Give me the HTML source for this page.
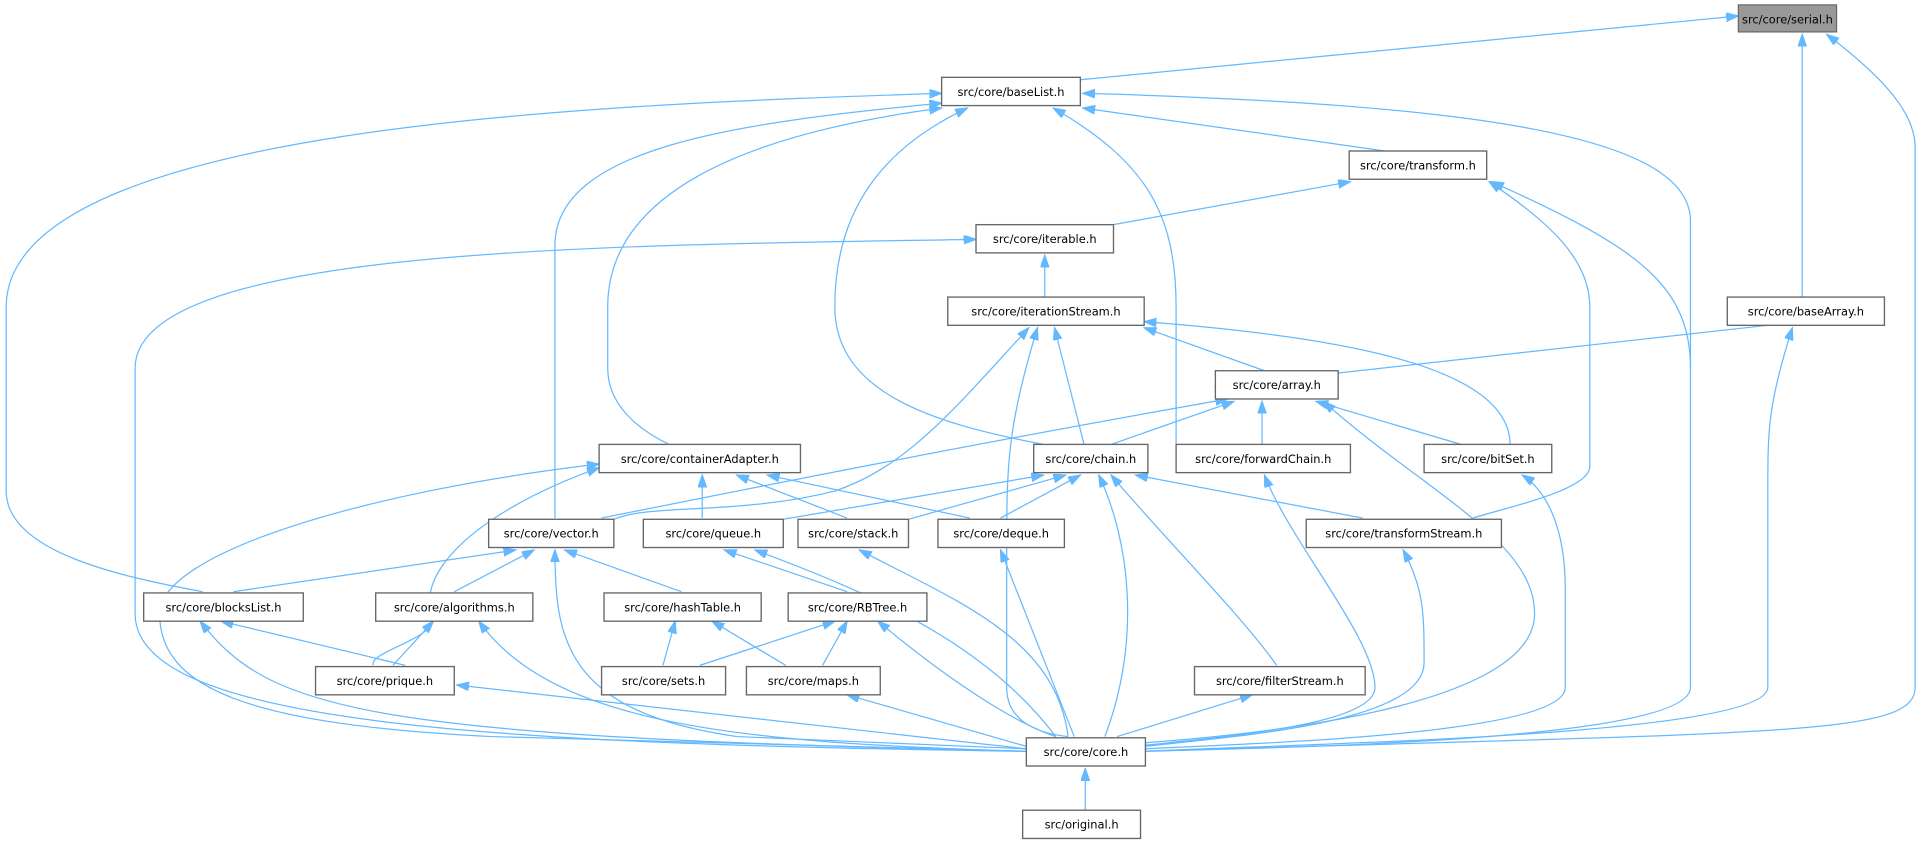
<!DOCTYPE html>
<html><head><meta charset="utf-8"><style>
html,body{margin:0;padding:0;background:#fff;}
svg{display:block;}
text{font-family:"DejaVu Sans","Liberation Sans",sans-serif;font-size:9.3px;fill:#000;}
.n{fill:#fff;stroke:#666;stroke-width:1.1;}
.e{fill:none;stroke:#63b8ff;stroke-width:1;marker-start:url(#a);}
</style></head><body>
<svg width="1925" height="843" viewBox="0 0 1568 686.7" xmlns="http://www.w3.org/2000/svg">
<defs><marker id="a" markerUnits="userSpaceOnUse" markerWidth="11" markerHeight="8" refX="10" refY="3.5" orient="auto-start-reverse"><path d="M0,0 L10,3.5 L0,7 Z" fill="#63b8ff" stroke="#63b8ff"/></marker></defs>
<g>
<path class="e" d="M1416,13 L880,65"/>
<path class="e" d="M1468,28 L1468,242"/>
<path class="e" d="M1488,28 C1530,60 1560,90 1560,120 L1560,560 C1560,600 1450,596 933,612"/>
<path class="e" d="M882,88 L1128,123"/>
<path class="e" d="M882,76 C1200,85 1377,110 1377,180 L1377,560 C1377,600 1100,608 933,612"/>
<path class="e" d="M858,88 C930,130 958,170 958,250 L958,362"/>
<path class="e" d="M788,88 C720,120 680,170 680,250 C680,320 760,345 850,362"/>
<path class="e" d="M767,88 C600,110 495,160 495,250 L495,300 C495,330 520,350 545,362"/>
<path class="e" d="M767,84 C600,100 452,120 452,200 L452,422"/>
<path class="e" d="M767,76 C500,85 5,100 5,250 L5,400 C5,450 100,470 165,482"/>
<path class="e" d="M1100,148 L907,183"/>
<path class="e" d="M1213,148 C1260,180 1295,210 1295,250 L1295,380 C1295,400 1220,415 1200,422"/>
<path class="e" d="M1215,148 C1330,200 1377,230 1377,300"/>
<path class="e" d="M851,208 L851,242"/>
<path class="e" d="M795,195 C500,200 110,200 110,300 L110,500 C110,590 400,606 836,612"/>
<path class="e" d="M932,267 L1030,302"/>
<path class="e" d="M932,262 C1100,275 1230,300 1230,362"/>
<path class="e" d="M838,267 C780,330 740,380 680,400 C600,420 530,410 500,423"/>
<path class="e" d="M859,267 L883,362"/>
<path class="e" d="M845,267 C820,350 820,380 820,450 L820,560 C820,590 850,598 870,600"/>
<path class="e" d="M990,315 L1440,265"/>
<path class="e" d="M1460,267 C1440,330 1440,350 1440,400 L1440,560 C1440,600 1050,606 933,612"/>
<path class="e" d="M1000,325 C800,360 600,400 490,422"/>
<path class="e" d="M1005,327 L905,362"/>
<path class="e" d="M1028,327 L1028,362"/>
<path class="e" d="M1072,327 L1190,362"/>
<path class="e" d="M1078,327 C1160,400 1250,440 1250,500 C1250,580 1000,600 933,605"/>
<path class="e" d="M572,387 L572,422"/>
<path class="e" d="M600,387 L690,422"/>
<path class="e" d="M625,387 L790,422"/>
<path class="e" d="M488,381 C380,420 340,470 352,500 C360,520 300,530 304,542"/>
<path class="e" d="M488,378 C300,400 130,450 130,500 C130,560 200,590 400,600 L836,612"/>
<path class="e" d="M850,387 L638,423"/>
<path class="e" d="M868,387 L740,423"/>
<path class="e" d="M880,387 L815,422"/>
<path class="e" d="M925,387 L1110,422"/>
<path class="e" d="M905,387 C950,440 1010,500 1040,542"/>
<path class="e" d="M895,387 C920,440 930,520 900,600"/>
<path class="e" d="M420,448 L190,482"/>
<path class="e" d="M435,448 L370,482"/>
<path class="e" d="M460,448 L555,482"/>
<path class="e" d="M452,448 C452,520 460,580 600,600 L836,610"/>
<path class="e" d="M590,448 L690,482"/>
<path class="e" d="M615,448 C700,480 800,520 860,600"/>
<path class="e" d="M700,448 C780,490 860,520 870,600"/>
<path class="e" d="M815,448 L875,600"/>
<path class="e" d="M1030,387 C1050,440 1120,520 1120,560 C1120,590 1000,600 933,607"/>
<path class="e" d="M1240,387 C1260,400 1275,430 1275,480 L1275,560 C1275,600 1000,606 933,610"/>
<path class="e" d="M1143,448 C1160,480 1160,500 1160,540 C1160,590 1000,600 933,608"/>
<path class="e" d="M180,506 L330,542"/>
<path class="e" d="M163,506 C220,580 300,600 836,612"/>
<path class="e" d="M353,506 L320,542"/>
<path class="e" d="M390,506 C450,590 600,605 836,612"/>
<path class="e" d="M550,506 L540,542"/>
<path class="e" d="M580,506 L640,542"/>
<path class="e" d="M680,506 L570,542"/>
<path class="e" d="M690,506 L670,542"/>
<path class="e" d="M715,506 C780,560 830,590 860,600"/>
<path class="e" d="M372,558 L836,610"/>
<path class="e" d="M690,566 L836,608"/>
<path class="e" d="M1020,566 L910,600"/>
<path class="e" d="M884,626 L884,660"/>
</g>
<g text-anchor="middle">
<rect x="1416" y="4" width="80" height="22" fill="#999" stroke="#666"/><text x="1456" y="19">src/core/serial.h</text>
<rect class="n" x="767" y="63" width="113" height="23"/><text x="823.5" y="78">src/core/baseList.h</text>
<rect class="n" x="1099" y="123" width="112" height="23"/><text x="1155" y="138">src/core/transform.h</text>
<rect class="n" x="795" y="183" width="112" height="23"/><text x="851" y="198">src/core/iterable.h</text>
<rect class="n" x="772" y="242" width="160" height="23"/><text x="852" y="257">src/core/iterationStream.h</text>
<rect class="n" x="1407" y="242" width="128" height="23"/><text x="1471" y="257">src/core/baseArray.h</text>
<rect class="n" x="990" y="302" width="100" height="23"/><text x="1040" y="317">src/core/array.h</text>
<rect class="n" x="488" y="362" width="164" height="23"/><text x="570" y="377">src/core/containerAdapter.h</text>
<rect class="n" x="842" y="362" width="93" height="23"/><text x="888.5" y="377">src/core/chain.h</text>
<rect class="n" x="958" y="362" width="142" height="23"/><text x="1029" y="377">src/core/forwardChain.h</text>
<rect class="n" x="1160" y="362" width="104" height="23"/><text x="1212" y="377">src/core/bitSet.h</text>
<rect class="n" x="398" y="423" width="102" height="23"/><text x="449" y="438">src/core/vector.h</text>
<rect class="n" x="524" y="423" width="114" height="23"/><text x="581" y="438">src/core/queue.h</text>
<rect class="n" x="650" y="423" width="90" height="23"/><text x="695" y="438">src/core/stack.h</text>
<rect class="n" x="764" y="423" width="103" height="23"/><text x="815.5" y="438">src/core/deque.h</text>
<rect class="n" x="1064" y="423" width="159" height="23"/><text x="1143.5" y="438">src/core/transformStream.h</text>
<rect class="n" x="117" y="483" width="130" height="23"/><text x="182" y="498">src/core/blocksList.h</text>
<rect class="n" x="306" y="483" width="128" height="23"/><text x="370" y="498">src/core/algorithms.h</text>
<rect class="n" x="492" y="483" width="128" height="23"/><text x="556" y="498">src/core/hashTable.h</text>
<rect class="n" x="642" y="483" width="113" height="23"/><text x="698.5" y="498">src/core/RBTree.h</text>
<rect class="n" x="257" y="543" width="113" height="23"/><text x="313.5" y="558">src/core/prique.h</text>
<rect class="n" x="490" y="543" width="101" height="23"/><text x="540.5" y="558">src/core/sets.h</text>
<rect class="n" x="608" y="543" width="109" height="23"/><text x="662.5" y="558">src/core/maps.h</text>
<rect class="n" x="973" y="543" width="139" height="23"/><text x="1042.5" y="558">src/core/filterStream.h</text>
<rect class="n" x="836" y="601" width="97" height="23"/><text x="884.5" y="616">src/core/core.h</text>
<rect class="n" x="833" y="660" width="96" height="23"/><text x="881" y="675">src/original.h</text>
</g>
</svg>
</body></html>
